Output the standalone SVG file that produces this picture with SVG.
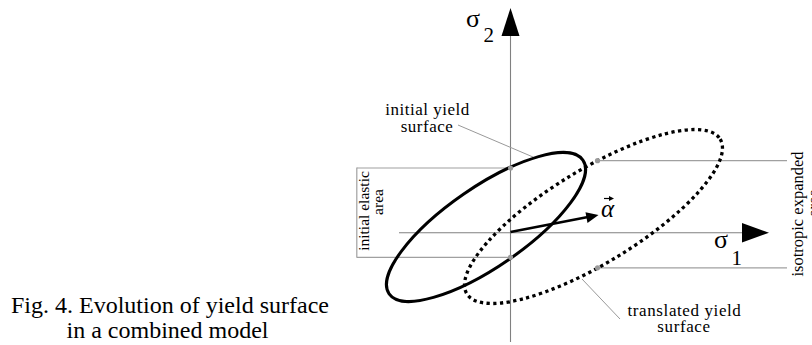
<svg xmlns="http://www.w3.org/2000/svg" width="812" height="345" viewBox="0 0 812 345">
<style>
.t{font-family:"Liberation Serif","Times New Roman",serif;fill:#000}
.guide{stroke:#a0a0a0;stroke-width:1.2;fill:none}
.axis{stroke:#808080;stroke-width:1.1;fill:none}
.lead{stroke:#999;stroke-width:1;fill:none}
.pt{fill:#9a9a9a}
</style>
<rect width="812" height="345" fill="#fff"/>
<g id="connectors">
  <line class="axis" x1="510.5" y1="30" x2="510.5" y2="342"/>
  <polygon points="510.5,8 501.5,36 519.5,36" fill="#000"/>
  <line class="axis" x1="399" y1="232.7" x2="746" y2="232.7"/>
  <polygon points="769,232.7 742,223 742,242.5" fill="#000"/>
  <line class="guide" x1="357" y1="168" x2="510.5" y2="168"/>
  <line class="guide" x1="357" y1="257.3" x2="510.5" y2="257.3"/>
  <line class="guide" x1="356.8" y1="167.5" x2="356.8" y2="257.8"/>
  <line class="guide" x1="597.5" y1="160.7" x2="787" y2="160.7"/>
  <line class="guide" x1="597.5" y1="267.8" x2="787" y2="267.8"/>
  <line class="lead" x1="458" y1="125" x2="533" y2="157"/>
  <line class="lead" x1="582" y1="279" x2="620" y2="319"/>
</g>
<g id="initial-yield-surface">
  <ellipse cx="486" cy="227" rx="117.7" ry="39.8" transform="rotate(-34.6 486 227)" fill="none" stroke="#000" stroke-width="3"/>
</g>
<g id="translated-yield-surface">
  <ellipse cx="593.5" cy="216.5" rx="148.4" ry="46.7" transform="rotate(-31.4 593.5 216.5)" fill="none" stroke="#000" stroke-width="3.3" stroke-dasharray="3.3 3.4"/>
</g>
<g id="points">
  <circle class="pt" cx="510.5" cy="168" r="2.6"/>
  <circle class="pt" cx="510.5" cy="257.3" r="2.6"/>
  <circle class="pt" cx="597.5" cy="160.7" r="2.6"/>
  <circle class="pt" cx="597.5" cy="267.8" r="2.6"/>
</g>
<g id="alpha-vector">
  <line x1="510.5" y1="232" x2="588" y2="217" stroke="#000" stroke-width="2.6"/>
  <polygon points="598.5,215 585.5,212.2 587.5,223" fill="#000"/>
  <text class="t" x="601" y="217" font-size="25" font-style="italic">α</text>
  <line x1="604" y1="198.5" x2="610" y2="198.5" stroke="#000" stroke-width="1.2"/>
  <polygon points="614,198.5 609,196 609,201" fill="#000"/>
</g>
<g id="sigma2-label">
  <text class="t" x="466" y="27" font-size="26">σ</text>
  <text class="t" x="483.5" y="42.3" font-size="21">2</text>
</g>
<g id="sigma1-label">
  <text class="t" x="714" y="248.3" font-size="26">σ</text>
  <text class="t" x="731.5" y="265" font-size="21">1</text>
</g>
<g id="label-initial-yield">
  <text class="t" font-size="17" letter-spacing="0.5" text-anchor="middle"><tspan x="427.5" y="114.5">initial yield</tspan><tspan x="427" y="131.7">surface</tspan></text>
</g>
<g id="label-translated-yield">
  <text class="t" font-size="17" letter-spacing="0.6" text-anchor="middle"><tspan x="684.5" y="315.7">translated yield</tspan><tspan x="684" y="332.3">surface</tspan></text>
</g>
<g id="label-initial-elastic">
  <text class="t" font-size="15.5" text-anchor="middle" transform="translate(369 211) rotate(-90)">initial elastic</text>
  <text class="t" font-size="15.5" text-anchor="middle" transform="translate(383 202) rotate(-90)">area</text>
</g>
<g id="label-isotropic">
  <text class="t" font-size="16.5" text-anchor="middle" transform="translate(803.3 214) rotate(-90)">isotropic expanded</text>
  <text class="t" font-size="16.5" text-anchor="middle" transform="translate(819 203) rotate(-90)">area</text>
</g>
<g id="caption">
  <text class="t" font-size="24" text-anchor="middle"><tspan x="170" y="313.3">Fig. 4. Evolution of yield surface</tspan><tspan x="167.5" y="338.3">in a combined model</tspan></text>
</g>
</svg>
